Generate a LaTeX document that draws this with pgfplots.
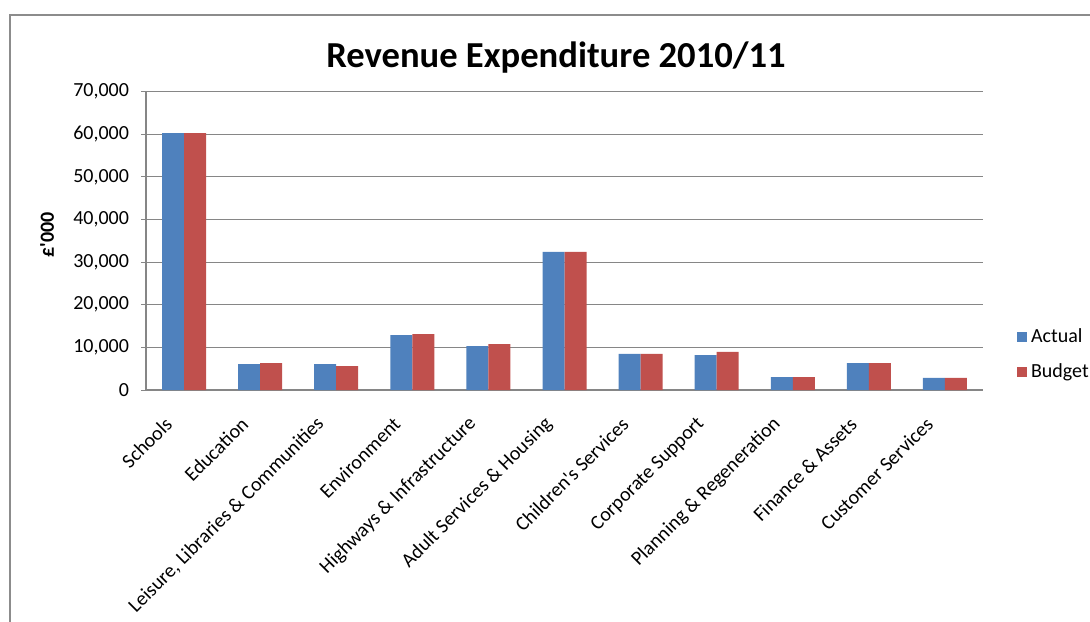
\documentclass[border=0pt]{standalone}
\usepackage{pgfplots}
\pgfplotsset{compat=1.18}
\usepackage{fontspec}
\setmainfont{Carlito}
\newfontfamily\nomap{Carlito}[Ligatures=TeXOff]
\newcommand{\sq}{{\nomap\char39}}
\definecolor{actual}{HTML}{4F81BD}
\definecolor{budget}{HTML}{C0504D}
\definecolor{gridc}{HTML}{868686}
\definecolor{framec}{HTML}{8C8C8C}
\begin{document}
\begin{tikzpicture}
\path[use as bounding box] (0pt,0pt) rectangle (545pt,310.5pt);
\draw[framec, line width=0.6pt] (5pt,-5pt) -- (5pt,303pt) -- (560pt,303pt);
\node[font=\bfseries\fontsize{18.3}{21}\selectfont] at (278pt,281.5pt) {Revenue Expenditure 2010/11};
\begin{axis}[
  at={(73pt,115.5pt)}, anchor=south west,
  scale only axis, width=418.5pt, height=149.15pt,
  ymin=0, ymax=70000, ytick={0,10000,...,70000},
  xmin=-0.5, xmax=10.5,
  ybar=0pt, bar width=11pt,
  xtick={0,...,10},
  xticklabels={Schools,Education,{Leisure, Libraries \& Communities},Environment,{Highways \& Infrastructure},{Adult Services \& Housing},{Children\sq s Services},{Corporate Support},{Planning \& Regeneration},{Finance \& Assets},{Customer Services}},
  xticklabel style={xshift=-5.25pt, yshift=-10.5pt, rotate=45, anchor=east, font=\fontsize{10}{12}\selectfont},
  x tick style={draw=none},
  y tick style={draw=gridc, line width=0.5pt},
  tick align=outside, major tick length=2.5pt,
  axis x line*=bottom, axis y line*=left,
  axis line style={draw=gridc, line width=0.6pt},
  ymajorgrids, grid style={draw=gridc, line width=0.5pt},
  scaled y ticks=false,
  yticklabel style={xshift=-2.5pt, font=\fontsize{10}{12}\selectfont, /pgf/number format/.cd, fixed, 1000 sep={,}, assume math mode=true},
  ylabel={\textbf{£\sq 000}},
  ylabel style={at={(axis description cs:-0.118,0.52)}, anchor=center, font=\fontsize{10}{12}\selectfont},
  legend style={at={(1.033,0.119)}, anchor=west, draw=none, fill=none, font=\fontsize{10}{12}\selectfont, row sep=5pt},
  legend cell align=left,
  legend image code/.code={\fill[#1] (0pt,-2.5pt) rectangle (5pt,2.5pt);},
]
\addplot[fill=actual, draw=none] coordinates {(0,60300) (1,6100) (2,6100) (3,12900) (4,10300) (5,32400) (6,8450) (7,8200) (8,3050) (9,6330) (10,2820)};
\addplot[fill=budget, draw=none] coordinates {(0,60300) (1,6330) (2,5630) (3,13140) (4,10790) (5,32400) (6,8450) (7,8920) (8,3050) (9,6330) (10,2820)};
\legend{Actual,Budget}
\end{axis}
\end{tikzpicture}
\end{document}
